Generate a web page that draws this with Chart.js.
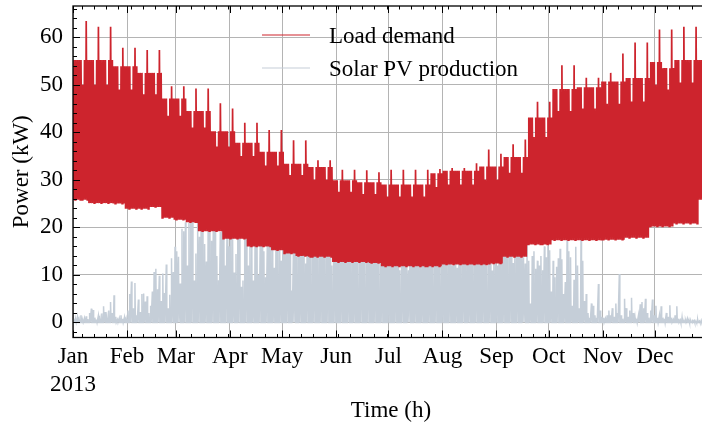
<!DOCTYPE html>
<html>
<head>
<meta charset="utf-8">
<script src="https://cdn.jsdelivr.net/npm/chart.js@4.4.1/dist/chart.umd.min.js"></script>
<style>
  html, body { margin: 0; padding: 0; background: #fff; overflow: hidden; width: 702px; height: 425px; }
  canvas { display: block; }
</style>
</head>
<body>
<canvas id="c" width="712" height="425" style="width:712px;height:425px"></canvas>
<script>
// ---- axis categories -------------------------------------------------------
const monthLabels   = ['Jan', 'Feb', 'Mar', 'Apr', 'May', 'Jun', 'Jul', 'Aug', 'Sep', 'Oct', 'Nov', 'Dec'];
const monthStartDay = [0, 31, 59, 90, 120, 151, 181, 212, 243, 273, 304, 334];
const yearLabel     = '2013';
const yTickValues   = [0, 10, 20, 30, 40, 50, 60];

// ---- load demand (kW), one entry per week-long block (block b = days 7b+2 .. 7b+8) ----
const loadWeekdayPeak = [
  55.2, 55.2, 55.2, 53.9, 53.9, 52.5, 52.5, 47.1, 47.1, 44.5, 44.5, 40.2, 40.2,
  37.8, 37.8, 35.9, 35.9, 33.4, 33.4, 32.7, 32.7, 29.9, 29.9, 29.5, 29.5, 29.0,
  29.0, 29.0, 29.0, 31.4, 31.9, 31.9, 31.9, 32.8, 32.8, 34.8, 34.8, 43.1, 43.1,
  49.1, 49.1, 49.5, 49.5, 50.7, 50.7, 51.4, 51.4, 54.8, 53.5, 55.2, 55.2, 55.2
];
const loadWeekendPeak = [
  50.0, 50.0, 50.0, 49.0, 49.0, 48.0, 48.0, 43.5, 43.5, 41.0, 41.0, 37.0, 37.0,
  35.0, 35.0, 33.0, 33.0, 31.0, 31.0, 30.0, 30.0, 27.5, 27.5, 27.0, 27.0, 26.5,
  26.5, 26.5, 26.5, 28.5, 29.0, 29.0, 29.0, 30.0, 30.0, 31.5, 31.5, 39.0, 39.0,
  44.5, 44.5, 45.0, 45.0, 46.0, 46.0, 46.5, 46.5, 50.0, 49.0, 50.5, 50.5, 50.5
];
const loadWeeklySpike = [
  63.4, 62.2, 62.2, 57.8, 57.8, 57.3, 57.3, 49.7, 49.7, 49.2, 49.2, 46.1, 45.0,
  42.0, 42.0, 40.5, 40.5, 38.3, 38.3, 34.1, 34.1, 32.1, 32.1, 32.0, 31.6, 32.1,
  32.1, 32.1, 32.1, 32.3, 32.5, 32.5, 33.5, 36.4, 35.5, 37.5, 38.5, 46.4, 46.4,
  54.1, 54.1, 51.5, 51.5, 52.5, 56.6, 58.9, 58.9, 61.6, 61.6, 62.2, 62.2, 55.2
];
const loadNightLow = [
  25.8, 25.1, 25.1, 25.0, 23.9, 23.9, 24.3, 22.0, 21.6, 21.1, 19.2, 19.2, 17.6,
  17.6, 16.0, 16.0, 15.2, 14.5, 14.0, 13.8, 13.8, 12.7, 12.7, 12.7, 12.5, 11.8,
  11.8, 11.8, 11.8, 11.8, 12.2, 12.2, 12.2, 12.2, 12.4, 13.8, 13.8, 16.4, 16.4,
  17.3, 17.3, 17.3, 17.3, 17.4, 17.4, 17.8, 17.8, 20.2, 20.2, 20.8, 20.8, 25.8
];

// ---- solar PV production (kW), daily midday peak, one row per month ----
const pvDailyPeak = [].concat(
  [0.8,0.5,1.2,0.6,1.5,0.4,0.9,1.3,0.7,2.0, 2.9,2.6,1.0,0.6,1.4,0.8,1.9,3.4,2.2,1.0, 2.5,4.3,2.0,5.7,1.2,0.6,0.9,1.5,0.8,1.1, 0.7],
  [2.5,6.0,8.6,3.0,8.3,1.5,4.8,2.2,6.0,6.1, 4.4,5.5,2.0,3.5,6.5,10.6,11.3,7.0,9.8,4.5, 10.3,6.2,12.2,3.0,5.8,13.5,10.6,15.9],
  [15.0,13.8,8.2,19.7,19.2,21.1,12.0,21.0,23.6,23.2, 8.8,14.5,21.1,18.0,23.2,23.0,16.5,12.8,19.5,23.6, 17.2,20.5,23.0,14.0,8.9,19.0,23.2,21.5,12.0,24.3, 16.0],
  [23.0,22.5,10.5,14.4,24.3,23.5,7.5,8.8,24.3,21.0, 12.0,16.5,23.2,8.8,22.5,22.5,10.0,19.5,23.6,15.0, 9.5,17.0,23.6,22.0,19.0,11.5,23.0,17.5,22.4,13.0],
  [23.6,23.6,21.5,20.4,23.0,6.7,16.5,19.7,17.5,22.5, 14.2,15.6,18.5,12.4,20.0,21.0,14.6,19.2,20.0,19.7, 18.0,17.5,18.7,19.7,17.3,15.0,20.8,22.0,12.0,19.5, 21.0],
  [18.5,20.0,14.5,17.8,21.8,20.8,13.4,17.3,18.7,21.8, 14.0,19.7,13.1,20.5,22.0,19.7,13.5,21.5,21.8,16.0, 20.5,21.8,19.7,18.7,12.4,18.7,15.9,20.0,21.8,21.0],
  [15.2,19.7,20.0,18.0,17.3,13.1,11.0,13.7,18.0,19.7, 12.0,11.0,19.7,20.8,18.7,14.5,20.5,19.7,13.0,12.4, 17.3,19.7,18.0,12.4,19.0,13.7,20.5,19.7,18.5,13.7, 17.0],
  [12.4,13.1,17.3,19.7,18.0,12.0,19.7,17.3,11.5,19.0, 16.5,13.7,18.7,19.7,17.3,12.4,13.1,16.0,18.0,19.0, 14.0,19.7,13.7,17.3,19.5,12.0,17.3,18.0,10.9,17.3, 19.0],
  [12.0,19.7,19.7,18.5,16.0,19.7,17.5,19.7,18.8,12.5, 18.3,17.0,18.3,18.0,18.0,13.7,12.4,18.0,13.0,4.0, 14.0,15.0,11.3,13.0,12.0,14.0,11.0,16.0,13.7,16.2],
  [15.2,6.5,13.0,9.5,11.7,13.5,15.5,13.3,6.0,8.5, 17.3,15.0,13.7,3.5,9.0,15.9,12.0,3.0,17.6,13.0, 4.5,6.0,2.0,1.0,4.0,3.5,1.5,1.0,8.1,2.5, 1.2],
  [1.0,0.8,1.5,2.5,1.5,3.0,1.2,4.0,2.0,10.2, 1.5,0.8,5.0,3.0,1.2,2.5,5.2,2.0,1.0,0.8, 1.5,3.8,4.3,3.0,5.0,2.0,1.0,2.5,4.8,1.5],
  [3.5,1.0,1.5,3.4,1.0,0.8,2.0,1.2,3.6,1.0, 0.6,1.5,3.4,0.8,0.5,1.0,0.6,0.4,0.8,0.5, 0.3,0.6,0.4,0.3,0.5,0.3,0.4,0.6,0.3,0.3, 0.4]
);

// ---- hourly series (x in days since 1 Jan) ----
const HOURS = 24;
function blockOf(day) { return Math.max(0, Math.floor((day - 2) / 7)); }

const loadSeries = [];
for (let d = 0; d < 365; d++) {
  const b = blockOf(d);
  const k = d - (7 * b + 2);            // 0 = Thursday ... 3 = Sunday
  let peak = loadWeekdayPeak[b];
  if (d === 7 * b + 7) peak = loadWeeklySpike[b];
  else if (k === 3) peak = loadWeekendPeak[b];
  loadSeries.push({ x: d + 4 / HOURS,  y: loadNightLow[b] });
  loadSeries.push({ x: d + 14 / HOURS, y: peak });
}

const pvSeries = [];
pvDailyPeak.forEach((peak, d) => {
  pvSeries.push({ x: d + 6 / HOURS,  y: 0 });
  pvSeries.push({ x: d + 13 / HOURS, y: peak });
  pvSeries.push({ x: d + 20 / HOURS, y: 0 });
});

// ---- styling ----
const LOAD_COLOR = 'rgb(205,36,45)';
const PV_COLOR   = 'rgb(197,206,216)';
const FONT       = 'Liberation Serif';

// inward ticks on all four sides plus the frame
const framePlugin = {
  id: 'frame',
  afterDraw(chart) {
    const { ctx, chartArea: a, scales: { x, y } } = chart;
    ctx.save();
    ctx.strokeStyle = '#000';
    ctx.lineWidth = 1;
    const vTick = (v, len) => {
      const px = Math.round(x.getPixelForValue(v)) + 0.5;
      ctx.beginPath();
      ctx.moveTo(px, a.bottom); ctx.lineTo(px, a.bottom - len);
      ctx.moveTo(px, a.top);    ctx.lineTo(px, a.top + len);
      ctx.stroke();
    };
    const hTick = (v, len) => {
      const py = Math.round(y.getPixelForValue(v)) + 0.5;
      ctx.beginPath();
      ctx.moveTo(a.left, py);  ctx.lineTo(a.left + len, py);
      ctx.moveTo(a.right, py); ctx.lineTo(a.right - len, py);
      ctx.stroke();
    };
    monthStartDay.forEach(v => vTick(v, 7));
    for (let d = 5; d <= 365; d += 7) vTick(d, 3.5);          // Sundays
    yTickValues.forEach(v => hTick(v, 7));
    for (let v = -2; v <= 66; v += 2) if (v % 10 !== 0) hTick(v, 4);
    ctx.lineWidth = 1.3;
    ctx.strokeRect(a.left, a.top, a.right - a.left, a.bottom - a.top);
    ctx.restore();
  }
};

// legend drawn inside the plot, without a frame
const legendPlugin = {
  id: 'innerLegend',
  afterDraw(chart) {
    const { ctx, chartArea: a } = chart;
    ctx.save();
    ctx.font = `23px "${FONT}"`;
    ctx.fillStyle = '#000';
    ctx.textBaseline = 'alphabetic';
    ctx.textAlign = 'left';
    const x0 = a.left + 189, x1 = a.left + 237, tx = a.left + 256;
    chart.data.datasets.forEach((ds, i) => {
      const ly = Math.round(a.top + 29 + i * 33);
      ctx.strokeStyle = ds.borderColor;
      ctx.lineWidth = 1.2;
      ctx.beginPath(); ctx.moveTo(x0, ly); ctx.lineTo(x1, ly); ctx.stroke();
      ctx.fillText(ds.label, tx, ly + 8);
    });
    ctx.restore();
  }
};

new Chart(document.getElementById('c').getContext('2d'), {
  type: 'line',
  data: {
    datasets: [
      { label: 'Load demand', data: loadSeries, borderColor: LOAD_COLOR, borderWidth: 1.7,
        pointRadius: 0, fill: false, tension: 0 },
      { label: 'Solar PV production', data: pvSeries, borderColor: PV_COLOR, borderWidth: 1.5,
        pointRadius: 0, fill: false, tension: 0 }
    ]
  },
  options: {
    responsive: false,
    animation: false,
    parsing: false,
    normalized: true,
    events: [],
    layout: { padding: { top: 6, right: 3, left: 0, bottom: 0 } },
    plugins: { legend: { display: false }, tooltip: { enabled: false } },
    scales: {
      x: {
        type: 'linear', min: 0, max: 365,
        afterBuildTicks: s => { s.ticks = monthStartDay.map(v => ({ value: v })); },
        afterFit: s => { s.height = 87.5; s.paddingLeft = 0; s.paddingRight = 0; },
        ticks: {
          autoSkip: false, maxRotation: 0, padding: 6, color: '#000',
          font: { family: FONT, size: 23 },
          callback: v => {
            const i = monthStartDay.indexOf(v);
            return i === 0 ? [monthLabels[0], yearLabel] : monthLabels[i];
          }
        },
        grid: { color: '#b4b4b4', lineWidth: 1, drawTicks: false },
        border: { display: false },
        title: { display: true, text: 'Time (h)', color: '#000',
                 font: { family: FONT, size: 23 }, padding: { top: 0, bottom: 0 } }
      },
      y: {
        min: -3.17, max: 66.57,
        afterBuildTicks: s => { s.ticks = yTickValues.map(v => ({ value: v })); },
        afterFit: s => { s.width = 73; s.paddingTop = 0; s.paddingBottom = 0; },
        ticks: { padding: 10, color: '#000', font: { family: FONT, size: 23 } },
        grid: { color: '#b4b4b4', lineWidth: 1, drawTicks: false },
        border: { display: false },
        title: { display: true, text: 'Power (kW)', color: '#000',
                 font: { family: FONT, size: 23 }, padding: { top: 8, bottom: 0 } }
      }
    }
  },
  plugins: [framePlugin, legendPlugin]
});
</script>
</body>
</html>
